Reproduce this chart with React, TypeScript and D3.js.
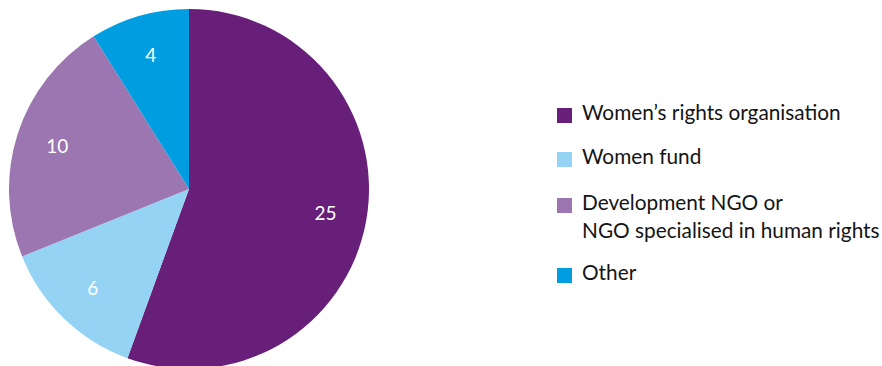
import React from "react";
import * as d3 from "d3";

const categories = [
  "Women’s rights organisation",
  "Women fund",
  "Development NGO or|NGO specialised in human rights",
  "Other",
];
const values = [25, 6, 10, 4];
const colors = ["#671f7a", "#95d3f4", "#9c76b0", "#009ee0"];

const W = 882;
const H = 366;

export default function App() {
  const cx = 189;
  const cy = 189;
  const R = 180;
  const pie = d3.pie<number>().sort(null).value((d) => d)(values);
  const arc = d3.arc<d3.PieArcDatum<number>>().innerRadius(0).outerRadius(R);
  const labelArc = d3
    .arc<d3.PieArcDatum<number>>()
    .innerRadius(R * 0.77)
    .outerRadius(R * 0.77);

  const rowTops = [108, 152, 198, 268];

  return (
    <svg
      width={W}
      height={H}
      style={{ position: "absolute", left: 0, top: 0, background: "#fff" }}
      fontFamily="Lato, 'Open Sans', sans-serif"
    >
      <g transform={`translate(${cx},${cy})`}>
        {pie.map((p, i) => (
          <path key={i} d={arc(p) || ""} fill={colors[i]} />
        ))}
        {pie.map((p, i) => {
          const [x, y] = labelArc.centroid(p);
          return (
            <text
              key={"l" + i}
              x={x}
              y={y}
              dy="0.35em"
              textAnchor="middle"
              fill="#fff"
              fontSize={19}
            >
              {values[i]}
            </text>
          );
        })}
      </g>
      <g>
        {categories.map((c, i) => {
          const top = rowTops[i];
          const lines = c.split("|");
          return (
            <g key={"g" + i}>
              <rect x={557} y={top} width={15} height={15} fill={colors[i]} />
              {lines.map((ln, j) => (
                <text
                  key={j}
                  x={582}
                  y={top + 12 + j * 28}
                  fontSize={20.8}
                  fill="#141414"
                >
                  {ln}
                </text>
              ))}
            </g>
          );
        })}
      </g>
    </svg>
  );
}
